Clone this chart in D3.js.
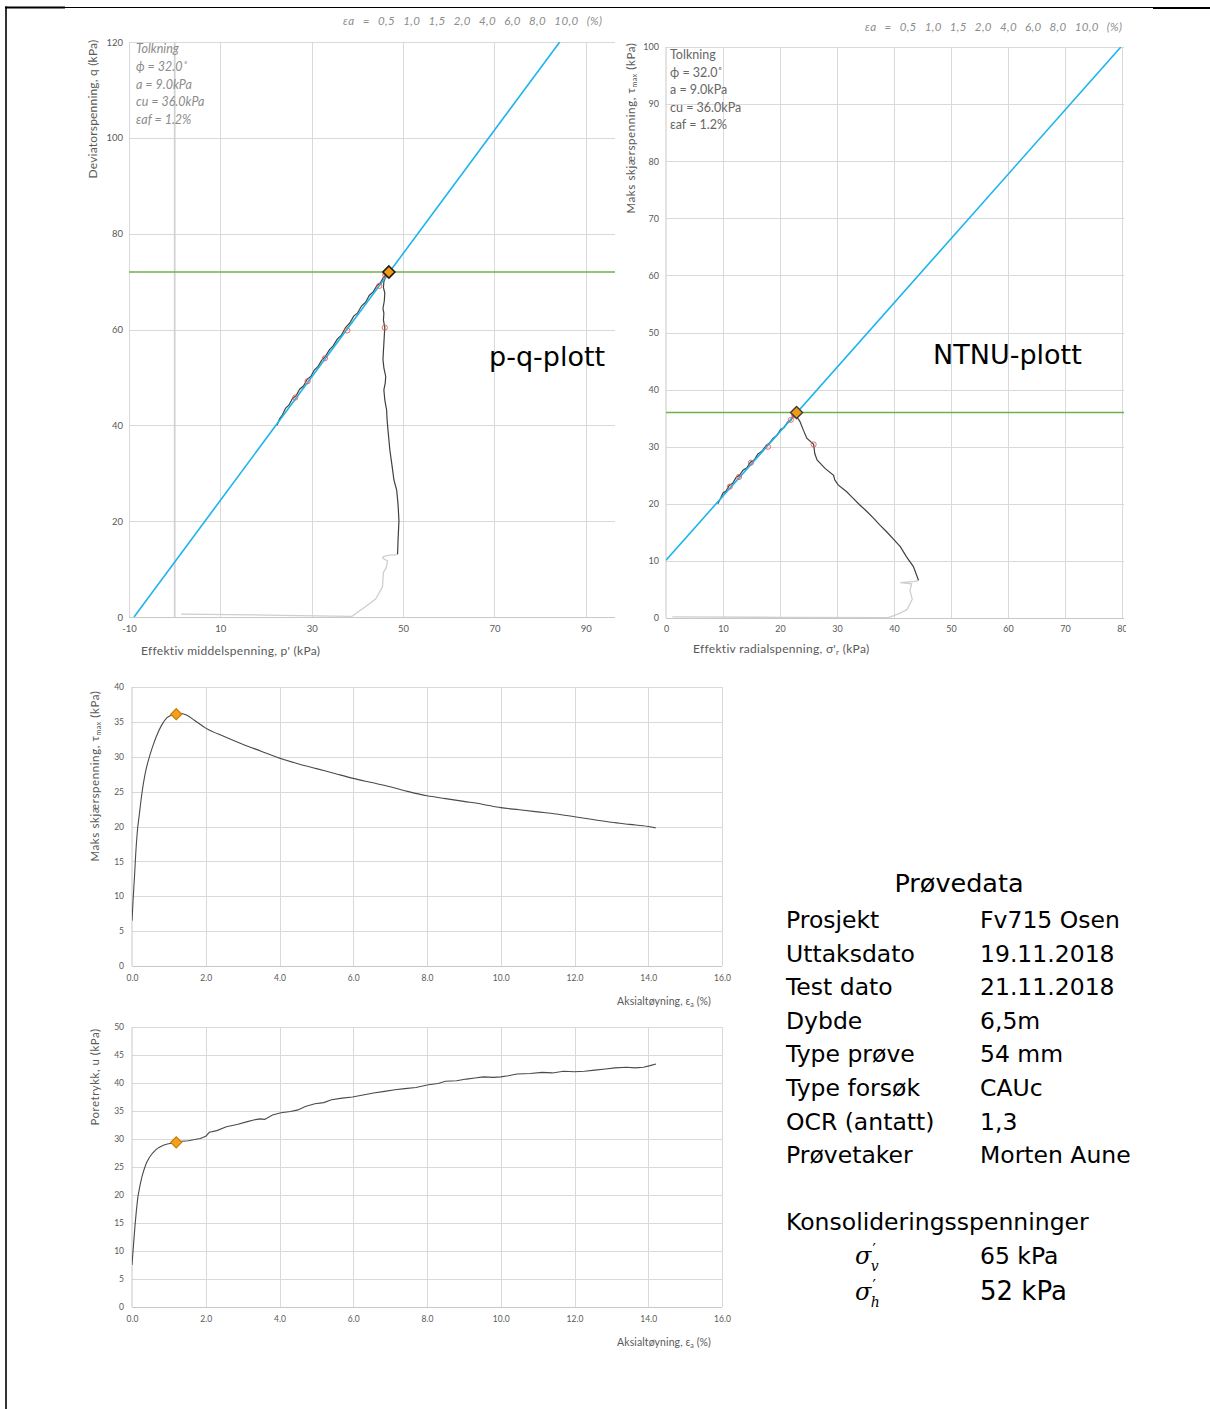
<!DOCTYPE html>
<html><head><meta charset="utf-8">
<script src="https://cdn.jsdelivr.net/npm/d3@7"></script>
<style>body{margin:0;background:#fff;} svg{display:block;}</style>
</head><body><svg id="c" width="1210" height="1409"></svg>
<script>
// ---------------- DATA ----------------
const strainLabels = ["0,5","1,0","1,5","2,0","4,0","6,0","8,0","10,0"];
const interpPQ = ["Tolkning","ϕ = 32.0˚","a = 9.0kPa","cu = 36.0kPa","εaf = 1.2%"];
const interpNTNU = ["Tolkning","ϕ = 32.0˚","a = 9.0kPa","cu = 36.0kPa","εaf = 1.2%"];

const pqXTicks = [-10,10,30,50,70,90];
const pqYTicks = [0,20,40,60,80,100,120];
const ntnuXTicks = [0,10,20,30,40,50,60,70,80];
const ntnuYTicks = [0,10,20,30,40,50,60,70,80,90,100];
const strainXTicks = [0,2,4,6,8,10,12,14,16];
const tauYTicks = [0,5,10,15,20,25,30,35,40];
const uYTicks = [0,5,10,15,20,25,30,35,40,45,50];

// p-q plot (p', q)
const pqConsolidation = [[1.4,0.6],[20,0.4],[38.8,0.15],[41.5,2.0],[44.0,3.75],[45.5,6.3],[45.7,9.3],[46.3,10.3],[46.6,11.7],[45.5,12.3],[45.7,12.6],[46.9,12.9],[48.0,12.9],[48.8,13.1]];
const pqShear = [[48.8,13.1],[48.9,16.0],[49.1,20.1],[48.9,23.5],[48.6,26.5],[48.0,28.6],[47.6,31.5],[47.1,34.9],[46.9,37.0],[46.7,39.0],[46.5,41.2],[46.4,43.2],[46.0,45.3],[45.8,47.4],[46.1,48.8],[46.2,50.2],[45.8,52.0],[45.6,53.7],[45.7,55.5],[45.8,57.1],[45.9,58.8],[46.0,60.4],[45.7,62.0],[45.8,63.4],[45.6,64.4],[45.9,66.0],[46.0,67.6],[45.7,68.8],[45.8,70.0],[46.3,71.2],[46.9,72.0],
  [46.4,71.5],[45.7,70.9],[45.0,69.7],[44.3,69.2],[43.5,67.9],[42.6,67.1],[41.8,65.7],[40.9,64.9],[40.0,63.4],[39.2,62.8],[38.3,61.3],[37.4,60.4],[36.5,58.8],[35.6,58.0],[34.7,56.6],[33.9,55.8],[33.0,54.4],[32.2,53.6],[31.4,52.3],[30.6,51.6],[29.8,50.2],[29.0,49.6],[28.2,48.2],[27.4,47.6],[26.6,46.2],[25.8,45.6],[25.0,44.2],[24.3,43.6],[23.6,42.2],[23.0,41.4],[22.4,40.0]];
const pqStrainMarks = [[46.0,60.4],[46.1,71.4],[46.3,71.7],[44.8,69.1],[37.8,59.8],[32.9,54.0],[29.1,49.2],[26.4,45.8]];
const pqFailureLine = [[-8.9,0],[84.3,120]];
const pqCu = 72;
const pqPeak = [46.9,72.0];

// NTNU plot (sigma'r, tau)
const ntnuConsolidation = [[1.1,0.2],[20,0.12],[39.0,0.06],[41.0,0.8],[42.3,1.5],[43.2,3.3],[42.8,4.8],[43.1,6.0],[41.1,6.2],[43.7,6.4],[44.3,6.6]];
const ntnuShear = [[44.3,6.6],[43.4,9.0],[42.2,10.7],[41.1,12.5],[39.9,13.8],[38.7,15.1],[37.5,16.3],[36.4,17.5],[35.2,18.7],[34.0,19.8],[32.8,21.0],[31.7,22.1],[30.2,23.3],[29.6,24.2],[29.4,25.0],[27.9,26.2],[26.5,27.7],[26.1,28.8],[25.9,30.4],[24.7,31.5],[24.1,32.9],[23.5,34.4],[22.9,35.3],[22.9,36.0],
  [22.4,35.6],[21.9,34.6],[21.3,34.3],[20.7,33.3],[20.1,33.0],[19.4,31.9],[18.8,31.5],[18.1,30.6],[17.5,30.1],[16.8,29.2],[16.1,28.7],[15.5,27.7],[14.8,27.3],[14.2,26.3],[13.5,25.9],[12.9,25.0],[12.3,24.6],[11.7,23.6],[11.1,23.2],[10.5,22.2],[10.0,21.9],[9.5,20.8],[9.1,20.0]];
const ntnuStrainMarks = [[25.9,30.4],[22.5,35.5],[22.6,35.7],[21.9,34.7],[17.9,30.0],[14.9,27.2],[12.8,24.7],[11.2,23.0]];
const ntnuFailureLine = [[0,10.1],[79.8,100]];
const ntnuCu = 36;
const ntnuPeak = [22.9,36.0];

// tau_max vs axial strain
const tauCurve = [[0,6.5],[0.03,9.5],[0.07,13],[0.1,16],[0.14,19],[0.2,21.8],[0.27,24.8],[0.35,27.4],[0.45,29.6],[0.55,31.3],[0.66,32.9],[0.8,34.5],[0.95,35.6],[1.1,36.0],[1.2,36.1],[1.35,36.2],[1.5,35.9],[1.7,35.2],[2.0,34.1],[2.5,32.9],[3.0,31.8],[3.5,30.8],[4.0,29.8],[4.5,29.0],[5.0,28.3],[5.5,27.6],[6.0,26.9],[6.5,26.3],[7.0,25.7],[7.5,25.0],[8.0,24.4],[8.5,24.0],[9.0,23.6],[9.5,23.2],[10.0,22.7],[10.5,22.4],[11.0,22.1],[11.5,21.8],[12.0,21.4],[12.5,21.0],[13.0,20.6],[13.5,20.3],[14.0,20.0],[14.2,19.8]];
const tauPeak = [1.2,36.1];

// pore pressure vs axial strain
const uCurve = [[0,7.5],[0.04,11],[0.08,14.4],[0.12,17.3],[0.16,19.7],[0.22,21.8],[0.27,23.3],[0.33,24.6],[0.39,25.7],[0.47,26.7],[0.56,27.5],[0.65,28.1],[0.73,28.5],[0.85,28.9],[0.96,29.1],[1.1,29.3],[1.2,29.4],[1.35,29.6],[1.53,29.7],[1.7,29.9],[1.85,30.1],[2.0,30.5],[2.1,31.2],[2.3,31.5],[2.56,32.2],[2.85,32.6],[3.13,33.1],[3.3,33.4],[3.47,33.6],[3.6,33.5],[3.81,34.3],[4.04,34.7],[4.3,34.9],[4.5,35.2],[4.7,35.8],[4.96,36.3],[5.2,36.5],[5.41,37.0],[5.7,37.3],[5.98,37.5],[6.3,37.9],[6.55,38.2],[6.85,38.5],[7.13,38.8],[7.4,39.0],[7.7,39.2],[8.04,39.7],[8.3,39.9],[8.5,40.3],[8.8,40.4],[9.07,40.7],[9.3,40.9],[9.53,41.1],[9.8,41.0],[10.0,41.1],[10.2,41.3],[10.44,41.6],[10.8,41.7],[11.12,41.9],[11.4,41.8],[11.7,42.1],[12.0,42.0],[12.27,42.1],[12.55,42.3],[12.84,42.5],[13.1,42.7],[13.41,42.8],[13.65,42.7],[13.87,42.8],[14.05,43.1],[14.21,43.4]];
const uPeak = [1.2,29.4];

const infoLabels = ["Prosjekt","Uttaksdato","Test dato","Dybde","Type prøve","Type forsøk","OCR (antatt)","Prøvetaker"];
const infoValues = ["Fv715 Osen","19.11.2018","21.11.2018","6,5m","54 mm","CAUc","1,3","Morten Aune"];
const consLabels = ["v","h"];
const consValues = ["65 kPa","52 kPa"];

// ---------------- DRAW ----------------
const svg = d3.select("#c");
const FONT = "Lato, 'Open Sans', sans-serif";
const GRID = "#d9d9d9", AXIS = "#c8c8c8", TXT = "#595959";
const BLUE = "#1cb4ec", GREEN = "#6fb04a", PATH = "#404040", LIGHT = "#cfcfcf", RED = "#e0605a";

// page frame
svg.append("line").attr("x1",5).attr("x2",1210).attr("y1",7.5).attr("y2",7.5).attr("stroke","#000").attr("stroke-width",1);
svg.append("line").attr("x1",5).attr("x2",65).attr("y1",7.5).attr("y2",7.5).attr("stroke","#000").attr("stroke-width",2);
svg.append("line").attr("x1",1153).attr("x2",1210).attr("y1",8).attr("y2",8).attr("stroke","#000").attr("stroke-width",2);
svg.append("line").attr("x1",6).attr("x2",6).attr("y1",6.5).attr("y2",1409).attr("stroke","#000").attr("stroke-width",1.6);

let clipN = 0;
function panel(c){
  const x = d3.scaleLinear().domain(c.xDomain).range([c.left,c.right]);
  const y = d3.scaleLinear().domain(c.yDomain).range([c.bottom,c.top]);
  const g = svg.append("g");
  g.selectAll(null).data(c.yTicks).join("line")
    .attr("x1",c.left).attr("x2",c.right).attr("y1",d=>Math.round(y(d))+0.5).attr("y2",d=>Math.round(y(d))+0.5)
    .attr("stroke",d=>d===c.yDomain[0]?AXIS:GRID).attr("stroke-width",1);
  g.selectAll(null).data(c.xGrid).join("line")
    .attr("y1",c.top).attr("y2",c.bottom).attr("x1",d=>Math.round(x(d))+0.5).attr("x2",d=>Math.round(x(d))+0.5)
    .attr("stroke",GRID).attr("stroke-width",1);
  if (c.yAxisAt!==undefined){
    g.append("line").attr("x1",x(c.yAxisAt)).attr("x2",x(c.yAxisAt)).attr("y1",c.top).attr("y2",c.bottom)
      .attr("stroke",c.yAxisC||AXIS).attr("stroke-width",c.yAxisW||1);
  }
  const axClip = "axclip"+(clipN++);
  svg.append("clipPath").attr("id",axClip).append("rect")
    .attr("x",0).attr("y",0).attr("width",c.labelClipRight||1210).attr("height",1409);
  const xa = g.append("g").attr("clip-path",`url(#${axClip})`).append("g").attr("transform",`translate(0,${c.bottom})`)
    .call(d3.axisBottom(x).tickValues(c.xTicks).tickSize(0).tickPadding(c.xPad||7).tickFormat(c.xFmt||(d=>d)));
  const ya = g.append("g").attr("transform",`translate(${c.left},0)`)
    .call(d3.axisLeft(y).tickValues(c.yTicks).tickSize(0).tickPadding(c.yPad||6).tickFormat(c.yFmt||(d=>d)));
  [xa,ya].forEach(a=>{a.select(".domain").remove();
    a.selectAll("text").attr("fill",TXT).attr("font-family",FONT).attr("font-size",c.tickFS||9);});
  const clipId = "clip"+(clipN++);
  svg.append("clipPath").attr("id",clipId).append("rect")
    .attr("x",c.left).attr("y",c.top).attr("width",c.right-c.left).attr("height",c.bottom-c.top);
  const plot = svg.append("g").attr("clip-path",`url(#${clipId})`);
  return {x,y,g,plot};
}
const line = (P)=>d3.line().x(d=>P.x(d[0])).y(d=>P.y(d[1]));
function diamond(P,pt,s,fill,stroke,sw){
  svg.append("path").attr("d",`M0,${-s}L${s},0L0,${s}L${-s},0Z`)
    .attr("transform",`translate(${P.x(pt[0])},${P.y(pt[1])})`)
    .attr("fill",fill).attr("stroke",stroke).attr("stroke-width",sw);
}
function rotLabel(x,y,parts,fs,ls){
  const t = svg.append("text").attr("transform",`translate(${x},${y}) rotate(-90)`)
    .attr("text-anchor","middle").attr("font-family",FONT).attr("font-size",fs).attr("fill",TXT)
    .attr("letter-spacing",ls||0);
  parts.forEach(p=>{ const ts=t.append("tspan").text(p.t); if(p.sub){ts.attr("font-size",fs*0.6).attr("dy",2);} if(p.after){ts.attr("dy",-2);} });
  return t;
}
function strainHeader(x,y,w){
  svg.append("text").attr("x",x).attr("y",y).attr("textLength",w).attr("lengthAdjust","spacing")
    .attr("font-family",FONT).attr("font-style","italic").attr("font-size",11.5).attr("fill","#8c8c8c")
    .attr("word-spacing",5)
    .text("εa = "+strainLabels.join(" ")+" (%)");
}

// ---- p-q plot ----
const PQ = panel({left:129,right:615,top:42,bottom:617,xDomain:[-10,96.4],yDomain:[0,120],
  xTicks:pqXTicks,yTicks:pqYTicks,xGrid:[-10,10,30,50,70,90],yAxisAt:0,yAxisW:1.8,yAxisC:"#d2d2d2",xPad:8,yPad:6,tickFS:9.5});
PQ.plot.append("path").datum(pqConsolidation).attr("d",line(PQ)).attr("fill","none").attr("stroke",LIGHT).attr("stroke-width",1.3);
PQ.plot.append("path").datum(pqShear).attr("d",line(PQ)).attr("fill","none").attr("stroke",PATH).attr("stroke-width",1.2);
PQ.plot.append("line").attr("x1",PQ.x(-10)).attr("x2",PQ.x(96.4)).attr("y1",PQ.y(pqCu)).attr("y2",PQ.y(pqCu)).attr("stroke",GREEN).attr("stroke-width",1.6);
PQ.plot.append("path").datum(pqFailureLine).attr("d",line(PQ)).attr("fill","none").attr("stroke",BLUE).attr("stroke-width",1.6);
PQ.plot.selectAll(null).data(pqStrainMarks).join("circle").attr("cx",d=>PQ.x(d[0])).attr("cy",d=>PQ.y(d[1])).attr("r",2.6)
  .attr("fill","none").attr("stroke",RED).attr("stroke-width",0.9);
diamond(PQ,pqPeak,6,"#f29a12","#1a1a1a",1.6);
strainHeader(343,25,259);
svg.append("g").selectAll("text").data(interpPQ).join("text").attr("x",136).attr("y",(d,i)=>53+i*17.8)
  .attr("font-family",FONT).attr("font-style","italic").attr("font-size",12.5).attr("fill","#8c8c8c").text(d=>d);
rotLabel(97,109,[{t:"Deviatorspenning, q (kPa)"}],12,0.2);
svg.append("text").attr("x",141).attr("y",655).attr("font-family",FONT).attr("font-size",12).attr("letter-spacing",0.3).attr("fill",TXT).text("Effektiv middelspenning, p' (kPa)");
svg.append("text").attr("x",489).attr("y",366).attr("font-family","'DejaVu Sans'").attr("font-size",27).attr("fill","#000").text("p-q-plott");

// ---- NTNU plot ----
const NT = panel({left:666,right:1124,top:47,bottom:618,xDomain:[0,80.35],yDomain:[0,100],
  xTicks:ntnuXTicks,yTicks:ntnuYTicks,xGrid:[10,20,30,40,50,60,70,80],yAxisAt:0,yAxisW:1,xPad:8,yPad:7,tickFS:9,labelClipRight:1126});
NT.plot.append("path").datum(ntnuConsolidation).attr("d",line(NT)).attr("fill","none").attr("stroke",LIGHT).attr("stroke-width",1.3);
NT.plot.append("path").datum(ntnuShear).attr("d",line(NT)).attr("fill","none").attr("stroke",PATH).attr("stroke-width",1.2);
NT.plot.append("line").attr("x1",NT.x(0)).attr("x2",NT.x(80.35)).attr("y1",NT.y(ntnuCu)).attr("y2",NT.y(ntnuCu)).attr("stroke",GREEN).attr("stroke-width",1.6);
NT.plot.append("path").datum(ntnuFailureLine).attr("d",line(NT)).attr("fill","none").attr("stroke",BLUE).attr("stroke-width",1.6);
NT.plot.selectAll(null).data(ntnuStrainMarks).join("circle").attr("cx",d=>NT.x(d[0])).attr("cy",d=>NT.y(d[1])).attr("r",2.6)
  .attr("fill","none").attr("stroke",RED).attr("stroke-width",0.9);
diamond(NT,ntnuPeak,6,"#f29a12","#3a3a3a",1.4);
strainHeader(865,31,257);
svg.append("g").selectAll("text").data(interpNTNU).join("text").attr("x",670).attr("y",(d,i)=>59+i*17.5)
  .attr("font-family",FONT).attr("font-size",12.5).attr("fill","#666").text(d=>d);
rotLabel(635,128,[{t:"Maks skjærspenning, τ"},{t:"max",sub:true},{t:" (kPa)",after:true}],11.5,0.6);
{
  const t = svg.append("text").attr("x",693).attr("y",653).attr("font-family",FONT).attr("font-size",12).attr("letter-spacing",0.3).attr("fill",TXT);
  t.append("tspan").text("Effektiv radialspenning, σ'");
  t.append("tspan").attr("font-size",8).attr("dy",2).text("r");
  t.append("tspan").attr("dy",-2).text(" (kPa)");
}
svg.append("text").attr("x",933).attr("y",364).attr("font-family","'DejaVu Sans'").attr("font-size",27).attr("fill","#000").text("NTNU-plott");

// ---- tau vs strain ----
const TA = panel({left:132,right:722,top:687,bottom:966,xDomain:[0,16],yDomain:[0,40],
  xTicks:strainXTicks,yTicks:tauYTicks,xGrid:[2,4,6,8,10,12,14,16],yAxisAt:0,yAxisW:1,xPad:9,yPad:8,tickFS:8.5,xFmt:d3.format(".1f")});
TA.plot.append("path").datum(tauCurve).attr("d",line(TA).curve(d3.curveMonotoneX)).attr("fill","none").attr("stroke","#4a4a4a").attr("stroke-width",1.1);
diamond(TA,tauPeak,5.5,"#f5a01a","#c97b0c",1.2);
rotLabel(99,776,[{t:"Maks skjærspenning, τ"},{t:"max",sub:true},{t:" (kPa)",after:true}],11.5,0.6);
{
  const t = svg.append("text").attr("x",711).attr("y",1005).attr("text-anchor","end").attr("font-family",FONT).attr("font-size",10.5).attr("letter-spacing",0.1).attr("fill",TXT);
  t.append("tspan").text("Aksialtøyning, ε");
  t.append("tspan").attr("font-size",7).attr("dy",2).text("a");
  t.append("tspan").attr("dy",-2).text(" (%)");
}

// ---- pore pressure vs strain ----
const UP = panel({left:132,right:722,top:1027,bottom:1307,xDomain:[0,16],yDomain:[0,50],
  xTicks:strainXTicks,yTicks:uYTicks,xGrid:[2,4,6,8,10,12,14,16],yAxisAt:0,yAxisW:1,xPad:9,yPad:8,tickFS:8.5,xFmt:d3.format(".1f")});
UP.plot.append("path").datum(uCurve).attr("d",line(UP)).attr("fill","none").attr("stroke","#4a4a4a").attr("stroke-width",1.1);
diamond(UP,uPeak,5.5,"#f5a01a","#c97b0c",1.2);
rotLabel(99,1077,[{t:"Poretrykk, u (kPa)"}],11.5,0.5);
{
  const t = svg.append("text").attr("x",711).attr("y",1346).attr("text-anchor","end").attr("font-family",FONT).attr("font-size",10.5).attr("letter-spacing",0.1).attr("fill",TXT);
  t.append("tspan").text("Aksialtøyning, ε");
  t.append("tspan").attr("font-size",7).attr("dy",2).text("a");
  t.append("tspan").attr("dy",-2).text(" (%)");
}

// ---- info block ----
const IF = "'DejaVu Sans', Verdana, sans-serif";
svg.append("text").attr("x",959).attr("y",892).attr("text-anchor","middle").attr("font-family",IF).attr("font-size",25.5).attr("fill","#000").text("Prøvedata");
svg.append("g").selectAll("text").data(infoLabels).join("text").attr("x",786).attr("y",(d,i)=>928+i*33.6)
  .attr("font-family",IF).attr("font-size",23.5).attr("fill","#000").text(d=>d);
svg.append("g").selectAll("text").data(infoValues).join("text").attr("x",980).attr("y",(d,i)=>928+i*33.6)
  .attr("font-family",IF).attr("font-size",23.5).attr("fill","#000").text(d=>d);
svg.append("text").attr("x",786).attr("y",1230).attr("font-family",IF).attr("font-size",23.5).attr("fill","#000").text("Konsolideringsspenninger");
consLabels.forEach((s,i)=>{
  const by = i===0?1264:1300;
  // sigma with prime (superscript) and subscript, as one text element
  const t = svg.append("text").attr("x",855).attr("y",by).attr("font-family","'DejaVu Serif', serif").attr("font-size",24).attr("fill","#000");
  t.append("tspan").attr("font-style","italic").text("σ");
  t.append("tspan").attr("font-family","'DejaVu Sans', sans-serif").attr("font-size",15).attr("dy",-9).attr("dx",1).text("′");
  t.append("tspan").attr("font-style","italic").attr("font-size",14).attr("dy",16).attr("dx",-5).text(s);
  svg.append("text").attr("x",980).attr("y",by).attr("font-family",IF).attr("font-size",i===0?23.5:26).attr("fill","#000").text(consValues[i]);
});
</script></body></html>
